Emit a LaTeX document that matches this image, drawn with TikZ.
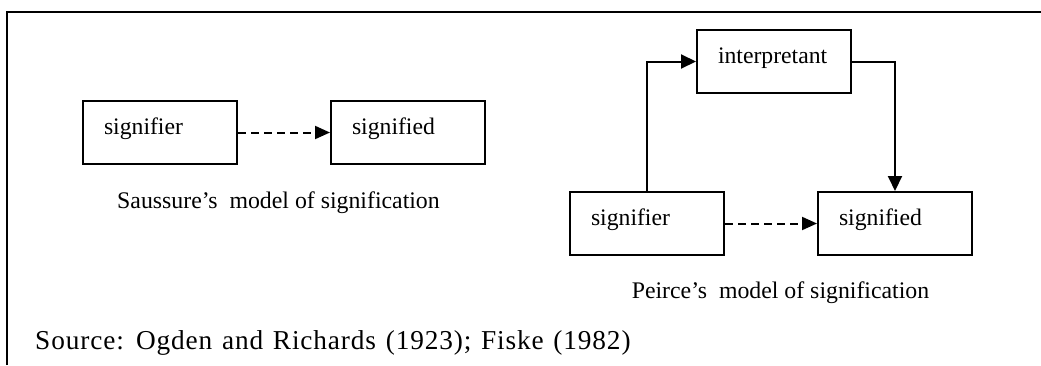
\documentclass[tikz,border=0pt]{standalone}
\usepackage{fontspec}
\setmainfont{Liberation Serif}
\usetikzlibrary{arrows.meta}
\begin{document}
\begin{tikzpicture}[x=1pt,y=-1pt,
  box/.style={draw, line width=2pt, minimum width=154pt, minimum height=63pt,
    inner xsep=21pt, inner ysep=0pt, text width=112pt, align=left,
    text height=33.5pt, text depth=29.5pt, font=\fontsize{23.7}{28}\selectfont, anchor=north west},
  caption/.style={anchor=base, inner sep=0pt, font=\fontsize{23.8}{28}\selectfont},
  solidarr/.style={line width=2pt, -{Triangle[length=15pt,width=14pt]}},
  dasharr/.style={line width=2pt, dash pattern=on 8pt off 5pt, -{Triangle[length=15pt,width=13pt]}}]
\useasboundingbox (0,0) rectangle (1041,365);
% frame
\draw[line width=2pt] (7,365) -- (7,12) -- (1041,12);
% Saussure
\node[box] (s1) at (82,100) {signifier};
\node[box] (d1) at (330,100) {signified};
\draw[dasharr] (s1.east) -- (d1.west);
\node[caption] (c1) at (278.5,208.5) {Saussure’s\ \ model of signification};
% Peirce
\node[box] (i2) at (696,29) {interpretant};
\node[box] (s2) at (569,191) {signifier};
\node[box] (d2) at (817,191) {signified};
\draw[solidarr] (s2.north) |- (i2.west);
\draw[solidarr] (i2.east) -| (d2.north);
\draw[dasharr] (s2.east) -- (d2.west);
\node[caption] (c2) at (780.5,298.5) {Peirce’s\ \ model of signification};
% source
\node[anchor=base west, inner sep=0pt, font=\fontsize{27.3}{30}\selectfont\addfontfeature{LetterSpace=3.2}] (src) at (35,349) {Source:\hspace{2pt} Ogden\hspace{2pt} and\hspace{2pt} Richards\hspace{2pt} (1923);\hspace{2pt} Fiske\hspace{2pt} (1982)};
\end{tikzpicture}
\end{document}
